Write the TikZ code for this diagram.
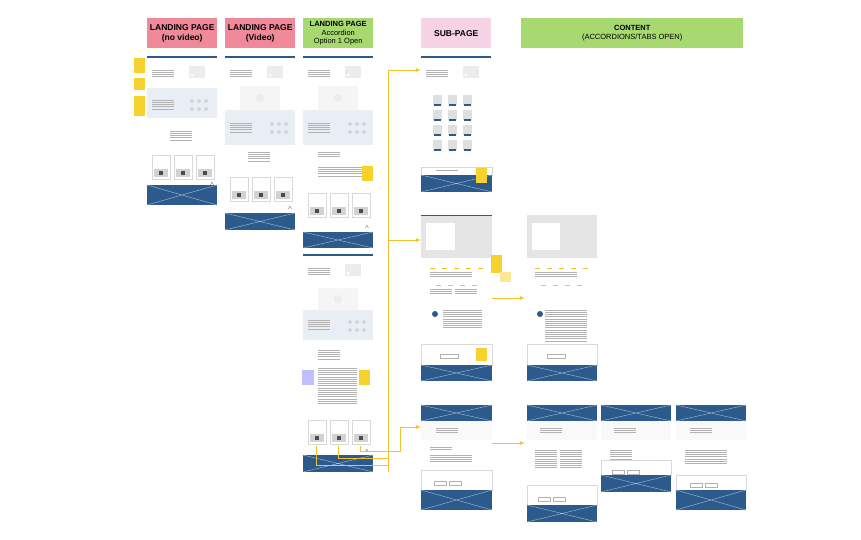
\documentclass[tikz,border=0pt]{standalone}
\usepackage{fontspec}
\setmainfont{Liberation Sans}
\begin{document}
\definecolor{pinkh}{HTML}{F08A9A}
\definecolor{greenh}{HTML}{A8D870}
\definecolor{lpink}{HTML}{F6D3E4}
\definecolor{navy}{HTML}{2C5A8C}
\definecolor{sticky}{HTML}{F7D22E}
\definecolor{band}{HTML}{E9EEF4}
\definecolor{conn}{HTML}{F2C12E}
\newcommand{\xbx}[4]{\fill[navy] (#1,#2) rectangle (#3,#4); \draw[white!60!navy,line width=0.4pt] (#1,#2)--(#3,#4) (#1,#4)--(#3,#2);}
\newcommand{\txl}[3]{\foreach \k in {0,...,#3} {\draw[gray!60,line width=0.3pt] (#1,#2+\k*2.2)--++(22,0);}}
\newcommand{\imgph}[2]{\fill[gray!15] (#1,#2) rectangle ++(16,-12); \fill[white] (#1+3,#2-3) circle (1.5);}
\newcommand{\landtop}[2]{\fill[navy] (#1,#2) rectangle ++(70,-2); \txl{#1+5}{#2+12}{3} \imgph{#1+42}{#2+20}}
\newcommand{\cards}[2]{\foreach \c in {0,1,2}{\draw[gray!30] (#1+5+\c*22,#2) rectangle ++(18,24); \fill[gray!35] (#1+7+\c*22,#2+14) rectangle ++(14,8); \fill[black!70] (#1+12+\c*22,#2+16) rectangle ++(4,4);}}
\begin{tikzpicture}[x=1pt,y=-1pt,
 hd/.style={minimum width=70pt,minimum height=30pt,anchor=north west,align=center,font=\fontsize{8.5}{9.5}\selectfont,inner sep=0pt},
 st/.style={fill=sticky,minimum width=11pt,minimum height=15pt,anchor=north west,inner sep=0pt},
 arr/.style={conn,line width=0.8pt,-latex}]
\useasboundingbox (0,0) rectangle (861,539);
\fill[white] (0,0) rectangle (861,539);
% headers
\node[hd,fill=pinkh] (h1) at (147,18) {\textbf{LANDING PAGE}\\\textbf{(no video)}};
\node[hd,fill=pinkh] (h2) at (225,18) {\textbf{LANDING PAGE}\\\textbf{(Video)}};
\node[hd,fill=greenh,font=\fontsize{7.5}{8.5}\selectfont] (h3) at (303,18) {\textbf{LANDING PAGE}\\Accordion\\Option 1 Open};
\node[hd,fill=lpink] (h4) at (421,18) {\textbf{SUB-PAGE}};
\node[hd,fill=greenh,minimum width=222pt,font=\fontsize{7.5}{8.5}\selectfont] (h5) at (521,18) {\textbf{CONTENT}\\(ACCORDIONS/TABS OPEN)};
% column 1
\landtop{147}{58}
\fill[band] (147,88) rectangle (217,118);
\txl{152}{100}{4} \foreach \i in {0,1,2}{\foreach \j in {0,1}{\draw[gray!50] (192+\i*7,101+\j*8) circle (1.5);}}
\txl{170}{131}{4} \cards{147}{155} \xbx{147}{185}{217}{205}
\node at (212,184) {\tiny$\wedge$};
% column 2
\landtop{225}{58}
\fill[gray!8] (240,86) rectangle (280,110); \fill[white!85!gray] (260,98) circle (4);
\fill[band] (225,110) rectangle (295,145);
\txl{230}{123}{4} \foreach \i in {0,1,2}{\foreach \j in {0,1}{\draw[gray!50] (272+\i*7,124+\j*8) circle (1.5);}}
\txl{248}{152}{4} \cards{225}{177} \xbx{225}{213}{295}{230}
\node at (290,208) {\tiny$\wedge$};
% column 3 top
\landtop{303}{58}
\fill[gray!8] (318,86) rectangle (358,110); \fill[white!85!gray] (338,98) circle (4);
\fill[band] (303,110) rectangle (373,145);
\txl{308}{123}{4} \foreach \i in {0,1,2}{\foreach \j in {0,1}{\draw[gray!50] (350+\i*7,124+\j*8) circle (1.5);}}
\txl{318}{152}{2} \txl{318}{167}{4} \txl{340}{167}{4}
\cards{303}{193} \xbx{303}{232}{373}{248}
\node at (367,227) {\tiny$\wedge$};
% column 3 bottom
\landtop{303}{256}
\fill[gray!8] (318,288) rectangle (358,310); \fill[white!85!gray] (338,299) circle (4);
\fill[band] (303,310) rectangle (373,340);
\txl{308}{320}{4} \foreach \i in {0,1,2}{\foreach \j in {0,1}{\draw[gray!50] (350+\i*7,322+\j*8) circle (1.5);}}
\txl{318}{350}{4} \txl{318}{368}{16} \txl{335}{368}{16}
\cards{303}{420}
\xbx{303}{455}{373}{472}
\node at (367,451) {\tiny$\wedge$};
% sub-page 1
\landtop{421}{58}
\foreach \i in {0,1,2}{\foreach \j in {0,1,2,3}{\fill[gray!25] (433+\i*15,95+\j*15) rectangle ++(9,10); \fill[navy] (434+\i*15,104+\j*15) rectangle ++(7,2);}}
\draw[gray!30] (421,167) rectangle (492,175); \txl{436}{170}{0}
\xbx{421}{175}{492}{192}
% sub-page 2
\fill[gray!20] (421,215) rectangle (492,258); \fill[white] (426,223) rectangle (455,250);
\fill[navy] (421,215) rectangle (492,216);
\foreach \i in {0,...,4}{\fill[conn] (430+\i*12,268) rectangle ++(5,1);}
\foreach \i in {0,...,3}{\fill[conn] (436+\i*12,285) rectangle ++(5,1);}
\txl{430}{272}{2} \txl{450}{272}{2} \txl{430}{289}{2} \txl{455}{289}{2}
\fill[navy] (435,314) circle (3); \txl{443}{310}{8} \txl{460}{310}{8}
\draw[gray!30] (421,344) rectangle (492,365); \draw[gray!60] (440,354) rectangle ++(18,4);
\xbx{421}{365}{492}{381}
% sub-page 3
\xbx{421}{405}{492}{421} \fill[gray!5] (421,421) rectangle (492,440);
\txl{436}{428}{2} \txl{430}{447}{1} \txl{430}{455}{3} \txl{450}{455}{3}
\draw[gray!30] (421,470) rectangle (492,490); \draw[gray!60] (434,481) rectangle ++(12,4); \draw[gray!60] (449,481) rectangle ++(12,4);
\xbx{421}{490}{492}{510}
% content 1
\fill[gray!20] (527,215) rectangle (597,258); \fill[white] (532,223) rectangle (560,250);
\foreach \i in {0,...,4}{\fill[conn] (535+\i*12,268) rectangle ++(5,1);}
\foreach \i in {0,...,3}{\fill[conn] (541+\i*12,285) rectangle ++(5,1);}
\txl{535}{272}{2} \txl{555}{272}{2}
\fill[navy] (540,314) circle (3); \txl{545}{310}{14} \txl{565}{310}{14}
\draw[gray!30] (527,344) rectangle (597,365); \draw[gray!60] (547,354) rectangle ++(18,4);
\xbx{527}{365}{597}{381}
% content 2,3,4
\xbx{527}{405}{597}{421} \fill[gray!5] (527,421) rectangle (597,440); \txl{540}{428}{2} \txl{535}{450}{8} \txl{560}{450}{8}
\draw[gray!30] (527,485) rectangle (597,505); \draw[gray!60] (538,497) rectangle ++(12,4); \draw[gray!60] (553,497) rectangle ++(12,4);
\xbx{527}{505}{597}{522}
\xbx{601}{405}{671}{421} \fill[gray!5] (601,421) rectangle (671,440); \txl{614}{428}{2} \txl{610}{450}{4}
\draw[gray!30] (601,460) rectangle (671,475); \draw[gray!60] (612,470) rectangle ++(12,4); \draw[gray!60] (627,470) rectangle ++(12,4);
\xbx{601}{475}{671}{492}
\xbx{676}{405}{746}{421} \fill[gray!5] (676,421) rectangle (746,440); \txl{690}{428}{2} \txl{685}{450}{6} \txl{705}{450}{6}
\draw[gray!30] (676,475) rectangle (746,490); \draw[gray!60] (690,483) rectangle ++(12,4); \draw[gray!60] (705,483) rectangle ++(12,4);
\xbx{676}{490}{746}{510}
% stickies
\node[st] (s1) at (134,58) {}; \node[st,minimum height=12pt] (s2) at (134,78) {}; \node[st,minimum height=20pt] (s3) at (134,96) {};
\node[st] (s4) at (362,166) {}; \node[st] (s5) at (476,168) {};
\node[st,minimum height=18pt] (s6) at (491,255) {}; \node[st,minimum height=10pt,fill=sticky!50] (s7) at (500,272) {};
\node[st,minimum height=13pt] (s8) at (476,348) {}; \node[st] (s9) at (359,370) {};
\node[st,fill=blue!25,minimum width=12pt] (s10) at (302,370) {};
% connectors
\coordinate (a0) at (388,472); \coordinate (a1) at (421,70);
\draw[arr] (a0) |- (a1);
\coordinate (b0) at (388,240); \coordinate (b1) at (421,240);
\draw[arr] (b0) -- (b1);
\coordinate (c0) at (316,446); \coordinate (c1) at (338,446); \coordinate (c2) at (360,446); \coordinate (t1) at (421,427);
\draw[conn,line width=0.8pt] (c0) |- (388,465);
\draw[conn,line width=0.8pt] (c1) |- (388,458);
\draw[arr] (c2) |- (400,451) |- (t1);
\coordinate (d0) at (492,298); \coordinate (d1) at (525,298);
\draw[arr] (d0) -- (d1);
\coordinate (e0) at (492,443); \coordinate (e1) at (525,443);
\draw[arr] (e0) -- (e1);
\end{tikzpicture}
\end{document}
